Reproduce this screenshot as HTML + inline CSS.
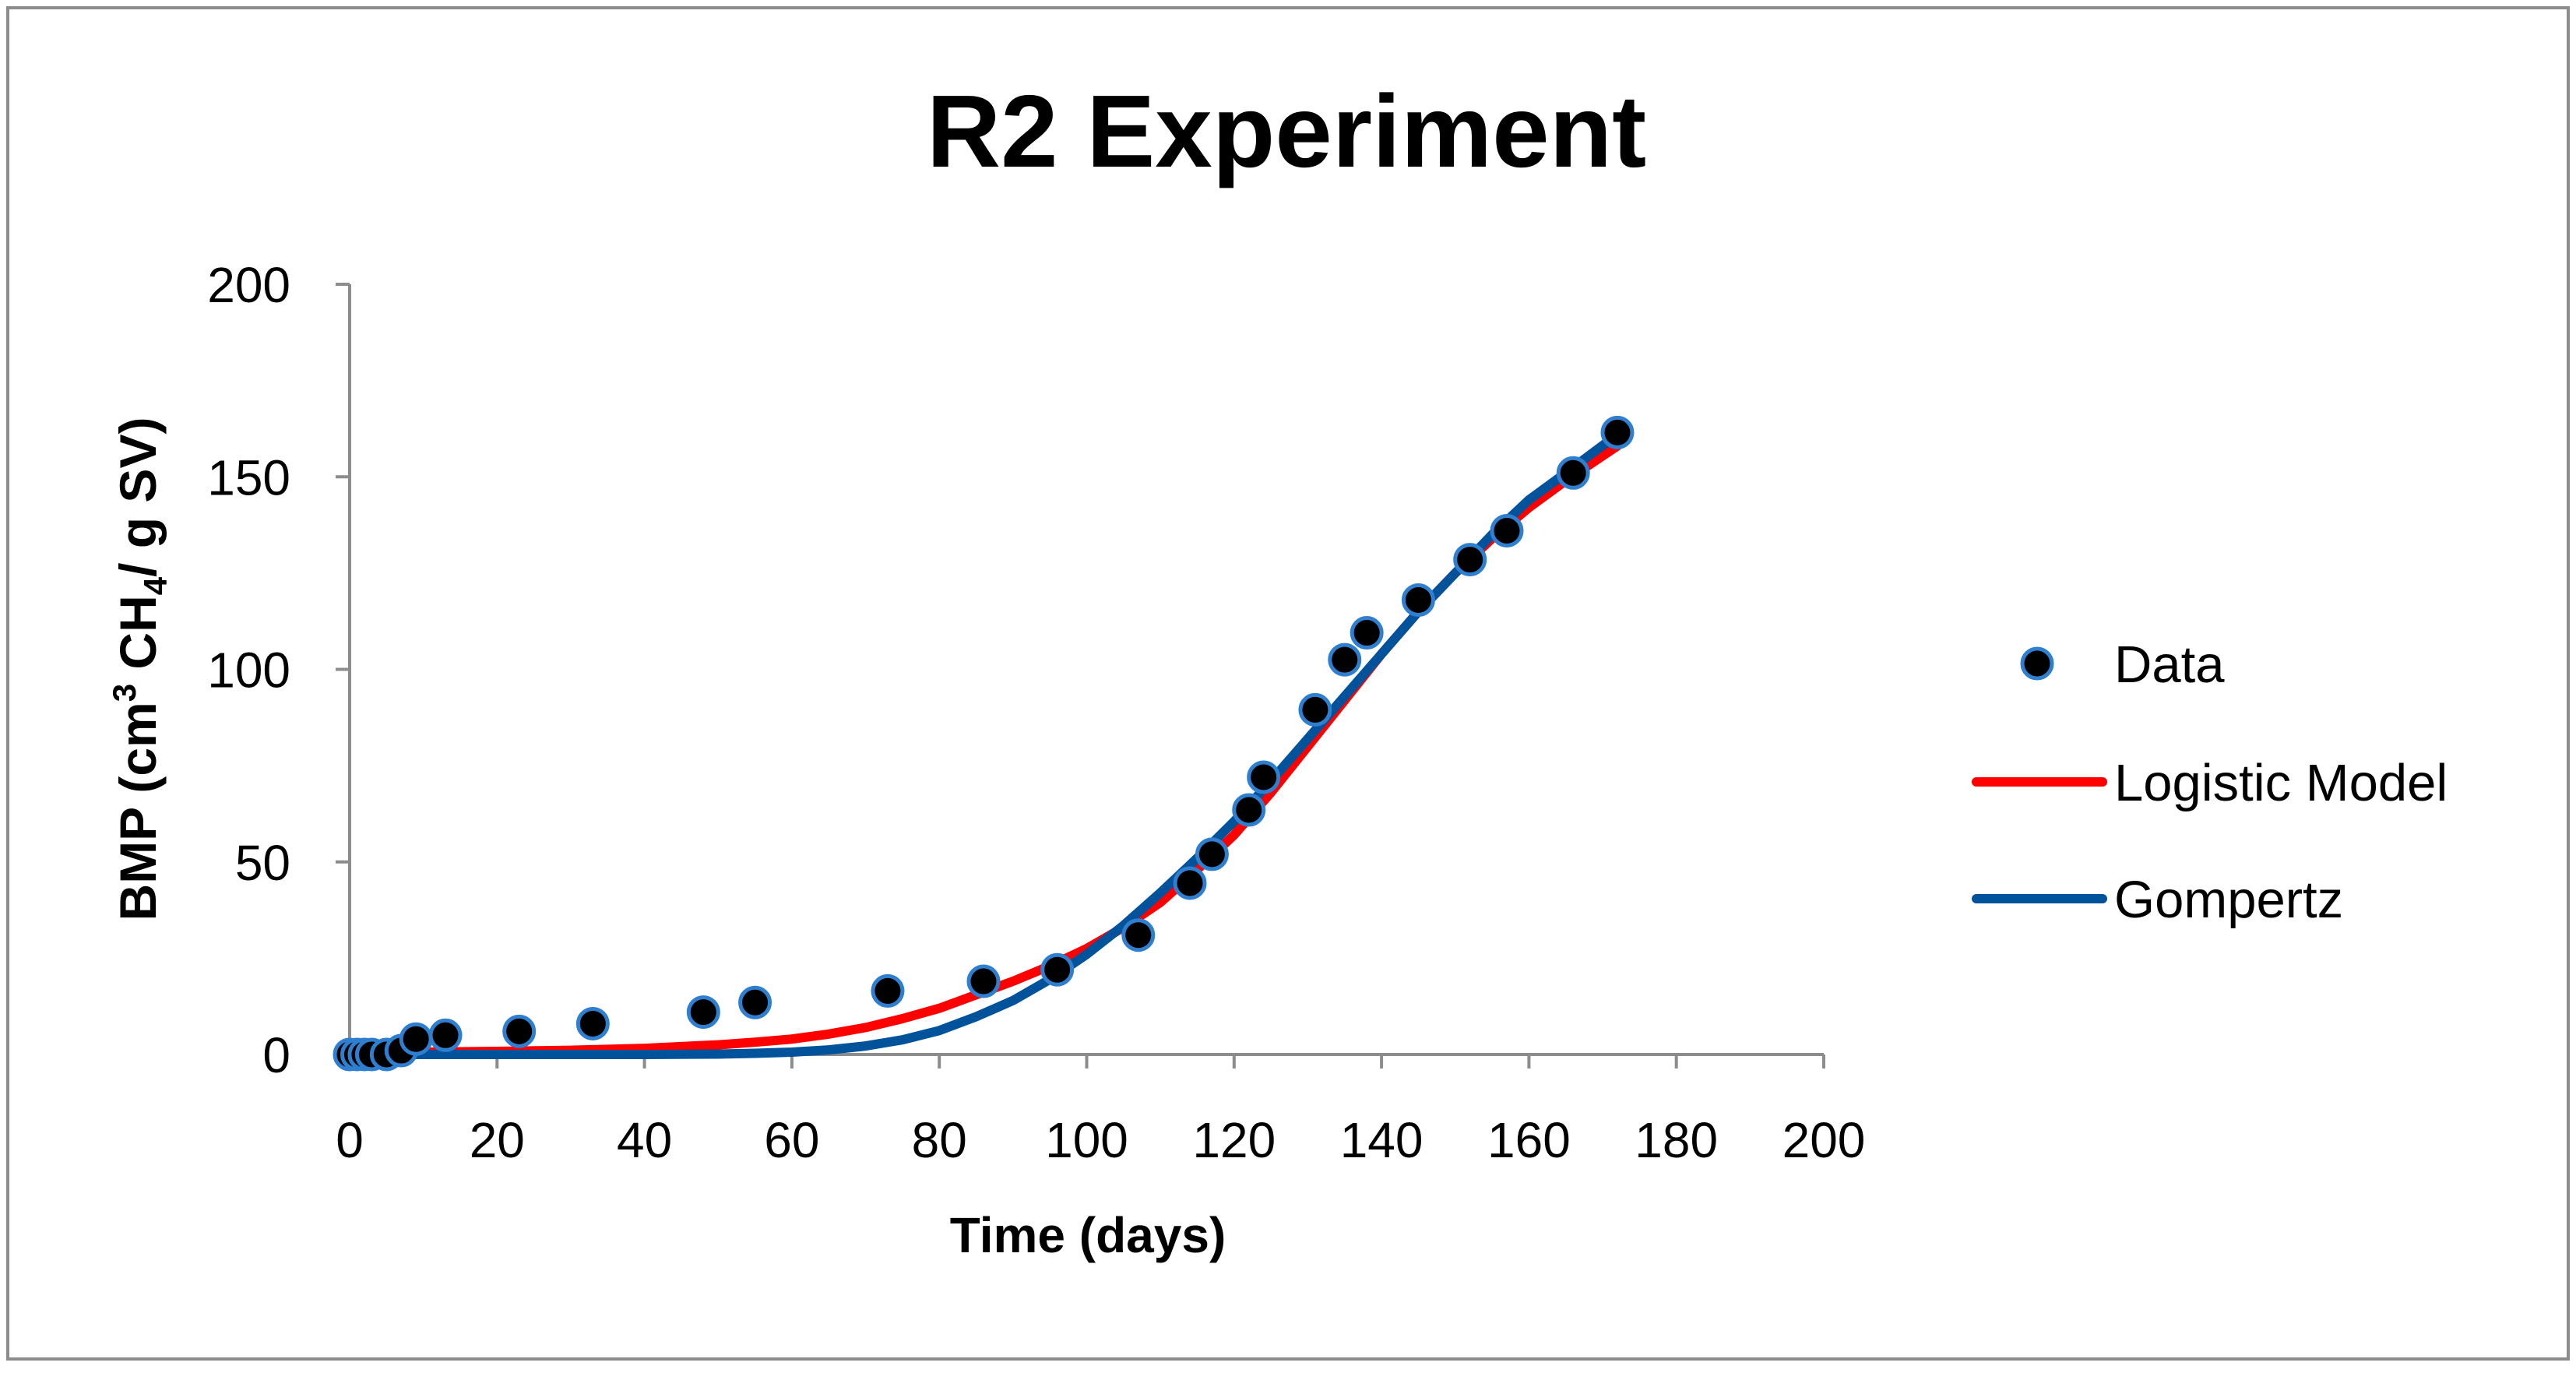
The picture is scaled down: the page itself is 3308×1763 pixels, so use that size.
<!DOCTYPE html>
<html><head><meta charset="utf-8"><style>
html,body{margin:0;padding:0;background:#fff;}
svg{display:block;font-family:"Liberation Sans",sans-serif;}
</style></head><body>
<svg id="chart" width="3308" height="1763" viewBox="0 0 3308 1763">
<rect x="10" y="10" width="3288" height="1735" fill="#fff" stroke="#8c8c8c" stroke-width="4"/>
<text x="1652" y="214" font-size="132" font-weight="bold" text-anchor="middle">R2 Experiment</text>
<g id="axes"></g>
<g id="series"></g>
<text x="1397" y="1608" font-size="64" font-weight="bold" text-anchor="middle">Time (days)</text>
<text transform="translate(200,859) rotate(-90)" font-size="66" font-weight="bold" text-anchor="middle">BMP (cm<tspan font-size="42" dy="-26">3</tspan><tspan dy="26"> CH</tspan><tspan font-size="42" dy="14">4</tspan><tspan dy="-14">/ g SV)</tspan></text>
<g>
<circle cx="2616" cy="852" r="19" fill="#000" stroke="#2f7fd0" stroke-width="5"/>
<text x="2715" y="876" font-size="67">Data</text>
<line x1="2538" y1="1004" x2="2700" y2="1004" stroke="#ff0000" stroke-width="12" stroke-linecap="round"/>
<text x="2715" y="1028" font-size="67">Logistic Model</text>
<line x1="2538" y1="1154" x2="2700" y2="1154" stroke="#00529b" stroke-width="12" stroke-linecap="round"/>
<text x="2715" y="1178" font-size="67">Gompertz</text>
</g>
</svg>
<script>
const xTicks=[0,20,40,60,80,100,120,140,160,180,200];
const yTicks=[0,50,100,150,200];
const dataX=[0,1,2,3,5,7,9,13,23,33,48,55,73,86,96,107,114,117,122,124,131,135,138,145,152,157,166,172];
const dataY=[0,0,0,0,0,1,4,5,6,8,11,13.5,16.5,19,22,31,44.5,52,63.5,72,89.5,102.5,109.5,118,128.5,136,151,161.5];
const logX=[0,10,20,30,40,50,55,60,65,70,75,80,85,90,95,100,105,110,115,120,125,130,135,140,145,150,155,160,165,172];
const logY=[0.5,0.6,0.8,1.1,1.6,2.5,3.2,4,5.3,7,9.3,12,15.5,19,23,27.5,33,39.5,48,57,68,80,92,104,115,125,134,142,149,158];
const gomX=[0,30,40,50,55,60,65,70,75,80,85,90,95,100,105,110,115,120,125,130,135,140,145,150,155,160,165,172];
const gomY=[0,0,0,0.1,0.3,0.6,1.2,2.2,3.8,6.2,9.8,14,19.5,26,33.5,42,51,60.5,71,82,93,104,115,125,135,144,151,161];
const X0=449,X1=2342,Y0=1354,Y1=365;
const sx=v=>X0+(v-0)/(200-0)*(X1-X0);
const sy=v=>Y0-(v-0)/(200-0)*(Y0-Y1);
const NS='http://www.w3.org/2000/svg';
const axes=document.getElementById('axes'),ser=document.getElementById('series');
function mk(tag,attrs,parent){const e=document.createElementNS(NS,tag);for(const k in attrs)e.setAttribute(k,attrs[k]);parent.appendChild(e);return e;}
let yl=mk('line',{x1:X0,y1:Y1,x2:X0,y2:Y0,stroke:'#8c8c8c','stroke-width':4},axes);


let xl=mk('line',{x1:X0,y1:Y0,x2:X1,y2:Y0,stroke:'#8c8c8c','stroke-width':4},axes);


yTicks.forEach(v=>{
 let t=mk('line',{x1:X0-18,y1:sy(v),x2:X0,y2:sy(v),stroke:'#8c8c8c','stroke-width':4},axes);
 
 
 let l=mk('text',{x:373,y:sy(v)+23,'font-size':64,'text-anchor':'end'},axes);l.textContent=v;
 
 
});
xTicks.forEach(v=>{
 let t=mk('line',{x1:sx(v),y1:Y0,x2:sx(v),y2:Y0+18,stroke:'#8c8c8c','stroke-width':4},axes);
 
 
 let l=mk('text',{x:sx(v),y:1486,'font-size':64,'text-anchor':'middle'},axes);l.textContent=v;
 
 
});
function path(xs,ys){return xs.map((x,i)=>(i?'L':'M')+sx(x).toFixed(1)+','+sy(ys[i]).toFixed(1)).join(' ');}
let lp=mk('path',{d:path(logX,logY),fill:'none',stroke:'#ff0000','stroke-width':12,'stroke-linejoin':'round','stroke-linecap':'round'},ser);


let gp=mk('path',{d:path(gomX,gomY),fill:'none',stroke:'#00529b','stroke-width':12,'stroke-linejoin':'round','stroke-linecap':'round'},ser);


dataX.forEach((x,i)=>{
 let c=mk('circle',{cx:sx(x),cy:sy(dataY[i]),r:19,fill:'#000',stroke:'#2f7fd0','stroke-width':5},ser);
 
 
});
</script>
</body></html>
